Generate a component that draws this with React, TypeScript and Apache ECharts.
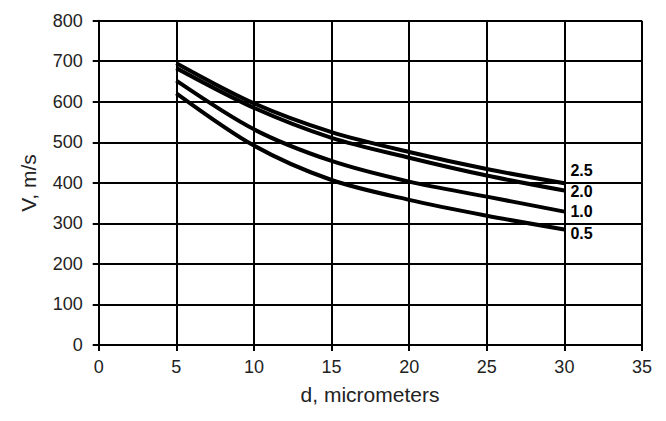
import React, { useEffect, useRef } from "react";
import * as echarts from "echarts";

const xTicks = [0, 5, 10, 15, 20, 25, 30, 35];
const dValues = [5, 10, 15, 20, 25, 30];
const seriesNames = ["2.5", "2.0", "1.0", "0.5"];
const v25 = [695, 596, 525, 476, 434, 399];
const v20 = [683, 585, 511, 462, 418, 381];
const v10 = [652, 532, 454, 403, 366, 329];
const v05 = [621, 492, 407, 358, 319, 285];
const labelOffsets = [-13, 1, 0, 4];

const FONT = "'Liberation Sans', Arial, sans-serif";

export default function App() {
  const ref = useRef<HTMLDivElement>(null);
  useEffect(() => {
    if (!ref.current) return;
    const chart = echarts.init(ref.current, undefined, { renderer: "svg" });
    const all = [v25, v20, v10, v05];
    const series = all.map((vals, i) => ({
      type: "line",
      name: seriesNames[i],
      data: vals.map((v, j) => [dValues[j], v]),
      smooth: 0.3,
      showSymbol: false,
      symbol: "none",
      lineStyle: { color: "#000", width: 4 },
      endLabel: {
        show: true,
        formatter: seriesNames[i],
        color: "#000",
        fontFamily: FONT,
        fontWeight: "bold",
        fontSize: 16,
        distance: 6,
        offset: [0, labelOffsets[i]],
      },
      z: 5,
    }));
    chart.setOption({
      animation: false,
      backgroundColor: "#fff",
      grid: { left: 98.7, right: 24, top: 20.7, bottom: 76 },
      xAxis: {
        type: "value",
        min: 0,
        max: 35,
        interval: 5,
        axisLine: { show: true, lineStyle: { color: "#000", width: 2 } },
        axisTick: { show: true, length: 6, lineStyle: { color: "#000", width: 2 } },
        splitLine: { show: true, lineStyle: { color: "#000", width: 2 } },
        axisLabel: {
          color: "#222",
          fontFamily: FONT,
          fontSize: 18,
          margin: 13,
          formatter: (v: number) => (xTicks.includes(v) ? String(v) : ""),
        },
      },
      yAxis: {
        type: "value",
        min: 0,
        max: 800,
        interval: 100,
        axisLine: { show: true, lineStyle: { color: "#000", width: 2 } },
        axisTick: { show: true, length: 6, lineStyle: { color: "#000", width: 2 } },
        splitLine: { show: true, lineStyle: { color: "#000", width: 2 } },
        axisLabel: {
          color: "#222",
          fontFamily: FONT,
          fontSize: 18,
          margin: 16,
        },
      },
      graphic: [
        {
          type: "text",
          x: 370,
          y: 394,
          style: {
            text: "d, micrometers",
            fill: "#222",
            font: `21px ${FONT}`,
            align: "center",
            verticalAlign: "middle",
          },
        },
        {
          type: "text",
          x: 28,
          y: 183,
          rotation: Math.PI / 2,
          style: {
            text: "V, m/s",
            fill: "#222",
            font: `21px ${FONT}`,
            align: "center",
            verticalAlign: "middle",
          },
        },
      ],
      series,
    });
    return () => chart.dispose();
  }, []);
  return (
    <div
      ref={ref}
      style={{ position: "fixed", left: 0, top: 0, width: 666, height: 421 }}
    />
  );
}
